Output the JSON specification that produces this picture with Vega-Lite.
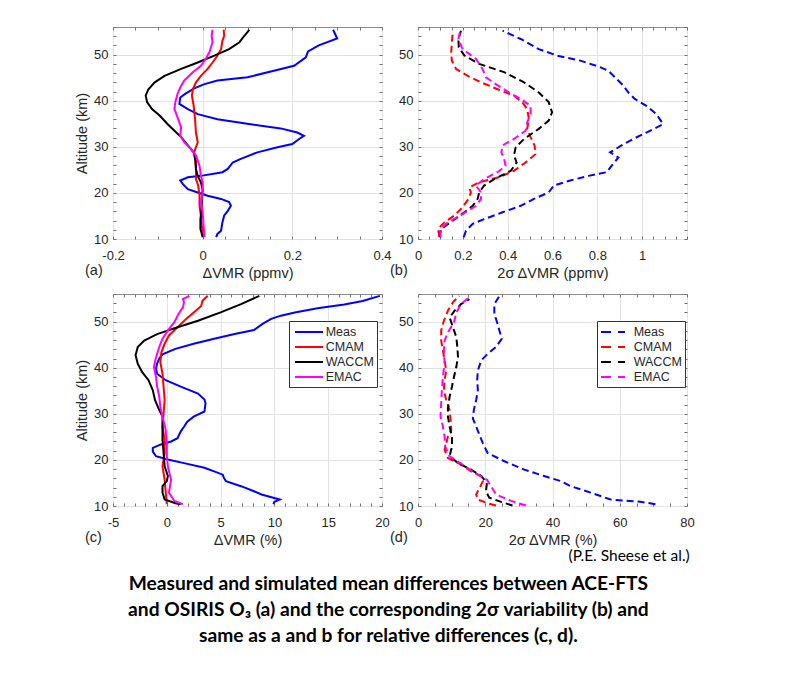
{
"$schema": "https://vega.github.io/schema/vega-lite/v6.json",
"background": "white",
"padding": {"left": 74, "top": 20, "right": 5, "bottom": 5},
"datasets": {
"a": [
{"s":"Meas","alt":55.4,"v":0.291},{"s":"Meas","alt":53.5,"v":0.300},{"s":"Meas","alt":52.0,"v":0.259},{"s":"Meas","alt":50.7,"v":0.235},{"s":"Meas","alt":49.4,"v":0.230},{"s":"Meas","alt":47.6,"v":0.204},{"s":"Meas","alt":46.5,"v":0.159},{"s":"Meas","alt":45.1,"v":0.100},{"s":"Meas","alt":44.4,"v":0.033},{"s":"Meas","alt":43.6,"v":0.004},{"s":"Meas","alt":42.7,"v":-0.019},{"s":"Meas","alt":41.5,"v":-0.039},{"s":"Meas","alt":40.7,"v":-0.050},{"s":"Meas","alt":39.3,"v":-0.052},{"s":"Meas","alt":38.2,"v":-0.033},{"s":"Meas","alt":37.1,"v":-0.011},{"s":"Meas","alt":36.0,"v":0.033},{"s":"Meas","alt":34.9,"v":0.107},{"s":"Meas","alt":34.0,"v":0.174},{"s":"Meas","alt":33.1,"v":0.211},{"s":"Meas","alt":32.4,"v":0.226},{"s":"Meas","alt":31.7,"v":0.215},{"s":"Meas","alt":30.6,"v":0.200},{"s":"Meas","alt":29.9,"v":0.167},{"s":"Meas","alt":28.8,"v":0.122},{"s":"Meas","alt":27.4,"v":0.085},{"s":"Meas","alt":26.6,"v":0.067},{"s":"Meas","alt":25.2,"v":0.056},{"s":"Meas","alt":24.5,"v":0.044},{"s":"Meas","alt":23.7,"v":-0.004},{"s":"Meas","alt":23.4,"v":-0.033},{"s":"Meas","alt":22.7,"v":-0.050},{"s":"Meas","alt":21.9,"v":-0.044},{"s":"Meas","alt":20.8,"v":-0.033},{"s":"Meas","alt":20.1,"v":-0.011},{"s":"Meas","alt":19.4,"v":0.011},{"s":"Meas","alt":18.7,"v":0.041},{"s":"Meas","alt":18.0,"v":0.059},{"s":"Meas","alt":17.2,"v":0.063},{"s":"Meas","alt":16.1,"v":0.056},{"s":"Meas","alt":15.1,"v":0.048},{"s":"Meas","alt":13.6,"v":0.044},{"s":"Meas","alt":11.8,"v":0.041},{"s":"Meas","alt":11.1,"v":0.033},{"s":"Meas","alt":10.4,"v":0.030},
{"s":"CMAM","alt":55.4,"v":0.047},{"s":"CMAM","alt":54.1,"v":0.048},{"s":"CMAM","alt":53.0,"v":0.044},{"s":"CMAM","alt":51.2,"v":0.041},{"s":"CMAM","alt":49.8,"v":0.033},{"s":"CMAM","alt":48.3,"v":0.022},{"s":"CMAM","alt":46.9,"v":0.011},{"s":"CMAM","alt":45.4,"v":-0.004},{"s":"CMAM","alt":44.0,"v":-0.015},{"s":"CMAM","alt":42.5,"v":-0.022},{"s":"CMAM","alt":41.1,"v":-0.024},{"s":"CMAM","alt":38.9,"v":-0.020},{"s":"CMAM","alt":36.0,"v":-0.017},{"s":"CMAM","alt":33.1,"v":-0.015},{"s":"CMAM","alt":31.0,"v":-0.011},{"s":"CMAM","alt":28.8,"v":-0.019},{"s":"CMAM","alt":27.4,"v":-0.015},{"s":"CMAM","alt":25.2,"v":-0.015},{"s":"CMAM","alt":23.0,"v":-0.015},{"s":"CMAM","alt":21.6,"v":-0.010},{"s":"CMAM","alt":19.4,"v":-0.007},{"s":"CMAM","alt":17.2,"v":-0.007},{"s":"CMAM","alt":15.1,"v":-0.004},{"s":"CMAM","alt":12.9,"v":-0.002},{"s":"CMAM","alt":10.4,"v":0.002},
{"s":"WACCM","alt":55.4,"v":0.104},{"s":"WACCM","alt":54.1,"v":0.093},{"s":"WACCM","alt":52.7,"v":0.082},{"s":"WACCM","alt":51.2,"v":0.059},{"s":"WACCM","alt":49.8,"v":0.026},{"s":"WACCM","alt":48.3,"v":-0.011},{"s":"WACCM","alt":46.9,"v":-0.048},{"s":"WACCM","alt":45.4,"v":-0.085},{"s":"WACCM","alt":44.0,"v":-0.107},{"s":"WACCM","alt":42.5,"v":-0.121},{"s":"WACCM","alt":41.1,"v":-0.127},{"s":"WACCM","alt":39.7,"v":-0.124},{"s":"WACCM","alt":38.2,"v":-0.113},{"s":"WACCM","alt":36.8,"v":-0.096},{"s":"WACCM","alt":35.0,"v":-0.079},{"s":"WACCM","alt":33.5,"v":-0.063},{"s":"WACCM","alt":32.1,"v":-0.048},{"s":"WACCM","alt":30.3,"v":-0.033},{"s":"WACCM","alt":28.8,"v":-0.020},{"s":"WACCM","alt":27.4,"v":-0.017},{"s":"WACCM","alt":25.2,"v":-0.015},{"s":"WACCM","alt":23.7,"v":-0.011},{"s":"WACCM","alt":22.3,"v":-0.004},{"s":"WACCM","alt":20.8,"v":0.000},{"s":"WACCM","alt":18.7,"v":-0.002},{"s":"WACCM","alt":16.5,"v":-0.002},{"s":"WACCM","alt":14.3,"v":-0.005},{"s":"WACCM","alt":12.2,"v":-0.005},{"s":"WACCM","alt":10.4,"v":0.000},
{"s":"EMAC","alt":55.4,"v":0.022},{"s":"EMAC","alt":54.1,"v":0.020},{"s":"EMAC","alt":52.7,"v":0.022},{"s":"EMAC","alt":50.5,"v":0.015},{"s":"EMAC","alt":49.1,"v":0.007},{"s":"EMAC","alt":47.6,"v":-0.004},{"s":"EMAC","alt":46.2,"v":-0.022},{"s":"EMAC","alt":44.4,"v":-0.041},{"s":"EMAC","alt":42.9,"v":-0.050},{"s":"EMAC","alt":41.5,"v":-0.056},{"s":"EMAC","alt":39.7,"v":-0.061},{"s":"EMAC","alt":38.2,"v":-0.063},{"s":"EMAC","alt":36.4,"v":-0.056},{"s":"EMAC","alt":34.2,"v":-0.048},{"s":"EMAC","alt":32.4,"v":-0.050},{"s":"EMAC","alt":31.0,"v":-0.041},{"s":"EMAC","alt":29.5,"v":-0.026},{"s":"EMAC","alt":28.1,"v":-0.015},{"s":"EMAC","alt":25.9,"v":-0.007},{"s":"EMAC","alt":23.7,"v":-0.004},{"s":"EMAC","alt":22.3,"v":0.000},{"s":"EMAC","alt":20.1,"v":0.000},{"s":"EMAC","alt":18.0,"v":-0.004},{"s":"EMAC","alt":15.8,"v":0.000},{"s":"EMAC","alt":12.9,"v":0.002},{"s":"EMAC","alt":10.4,"v":0.004}
],
"b": [
{"s":"Meas","alt":55.2,"v":0.377},{"s":"Meas","alt":53.4,"v":0.458},{"s":"Meas","alt":51.2,"v":0.539},{"s":"Meas","alt":49.8,"v":0.620},{"s":"Meas","alt":48.7,"v":0.724},{"s":"Meas","alt":47.3,"v":0.812},{"s":"Meas","alt":46.5,"v":0.849},{"s":"Meas","alt":45.1,"v":0.878},{"s":"Meas","alt":43.3,"v":0.916},{"s":"Meas","alt":41.8,"v":0.938},{"s":"Meas","alt":40.4,"v":0.967},{"s":"Meas","alt":38.9,"v":1.019},{"s":"Meas","alt":37.1,"v":1.064},{"s":"Meas","alt":34.9,"v":1.093},{"s":"Meas","alt":33.1,"v":1.019},{"s":"Meas","alt":31.7,"v":0.960},{"s":"Meas","alt":30.3,"v":0.908},{"s":"Meas","alt":28.8,"v":0.857},{"s":"Meas","alt":27.7,"v":0.894},{"s":"Meas","alt":25.9,"v":0.864},{"s":"Meas","alt":24.5,"v":0.842},{"s":"Meas","alt":23.7,"v":0.761},{"s":"Meas","alt":22.7,"v":0.679},{"s":"Meas","alt":21.6,"v":0.606},{"s":"Meas","alt":20.1,"v":0.583},{"s":"Meas","alt":18.7,"v":0.517},{"s":"Meas","alt":17.2,"v":0.458},{"s":"Meas","alt":15.8,"v":0.377},{"s":"Meas","alt":14.3,"v":0.295},{"s":"Meas","alt":13.3,"v":0.244},{"s":"Meas","alt":11.8,"v":0.214},{"s":"Meas","alt":10.4,"v":0.204},
{"s":"CMAM","alt":54.8,"v":0.155},{"s":"CMAM","alt":52.7,"v":0.151},{"s":"CMAM","alt":50.5,"v":0.148},{"s":"CMAM","alt":48.7,"v":0.151},{"s":"CMAM","alt":46.9,"v":0.170},{"s":"CMAM","alt":45.4,"v":0.222},{"s":"CMAM","alt":44.0,"v":0.281},{"s":"CMAM","alt":42.5,"v":0.355},{"s":"CMAM","alt":41.1,"v":0.428},{"s":"CMAM","alt":39.7,"v":0.465},{"s":"CMAM","alt":38.2,"v":0.487},{"s":"CMAM","alt":36.0,"v":0.495},{"s":"CMAM","alt":33.9,"v":0.487},{"s":"CMAM","alt":32.1,"v":0.502},{"s":"CMAM","alt":30.3,"v":0.520},{"s":"CMAM","alt":28.4,"v":0.524},{"s":"CMAM","alt":26.6,"v":0.480},{"s":"CMAM","alt":24.8,"v":0.428},{"s":"CMAM","alt":23.4,"v":0.362},{"s":"CMAM","alt":22.3,"v":0.273},{"s":"CMAM","alt":21.2,"v":0.229},{"s":"CMAM","alt":20.1,"v":0.236},{"s":"CMAM","alt":18.7,"v":0.225},{"s":"CMAM","alt":16.9,"v":0.199},{"s":"CMAM","alt":15.1,"v":0.162},{"s":"CMAM","alt":13.6,"v":0.118},{"s":"CMAM","alt":12.2,"v":0.089},{"s":"CMAM","alt":10.4,"v":0.096},
{"s":"WACCM","alt":55.2,"v":0.192},{"s":"WACCM","alt":53.4,"v":0.180},{"s":"WACCM","alt":51.6,"v":0.182},{"s":"WACCM","alt":49.8,"v":0.207},{"s":"WACCM","alt":48.0,"v":0.273},{"s":"WACCM","alt":46.2,"v":0.384},{"s":"WACCM","alt":44.0,"v":0.473},{"s":"WACCM","alt":41.8,"v":0.539},{"s":"WACCM","alt":39.7,"v":0.583},{"s":"WACCM","alt":37.5,"v":0.598},{"s":"WACCM","alt":35.7,"v":0.583},{"s":"WACCM","alt":33.9,"v":0.539},{"s":"WACCM","alt":31.7,"v":0.473},{"s":"WACCM","alt":29.9,"v":0.436},{"s":"WACCM","alt":28.1,"v":0.428},{"s":"WACCM","alt":26.6,"v":0.440},{"s":"WACCM","alt":24.8,"v":0.414},{"s":"WACCM","alt":23.0,"v":0.340},{"s":"WACCM","alt":21.6,"v":0.295},{"s":"WACCM","alt":20.1,"v":0.273},{"s":"WACCM","alt":18.7,"v":0.266},{"s":"WACCM","alt":17.2,"v":0.244},{"s":"WACCM","alt":15.8,"v":0.207},{"s":"WACCM","alt":14.0,"v":0.155},{"s":"WACCM","alt":12.2,"v":0.103},{"s":"WACCM","alt":10.4,"v":0.096},
{"s":"EMAC","alt":55.2,"v":0.189},{"s":"EMAC","alt":53.4,"v":0.180},{"s":"EMAC","alt":51.2,"v":0.199},{"s":"EMAC","alt":49.1,"v":0.258},{"s":"EMAC","alt":46.9,"v":0.288},{"s":"EMAC","alt":45.1,"v":0.303},{"s":"EMAC","alt":43.6,"v":0.347},{"s":"EMAC","alt":41.8,"v":0.406},{"s":"EMAC","alt":40.4,"v":0.458},{"s":"EMAC","alt":38.9,"v":0.502},{"s":"EMAC","alt":37.1,"v":0.502},{"s":"EMAC","alt":35.3,"v":0.487},{"s":"EMAC","alt":33.5,"v":0.480},{"s":"EMAC","alt":31.7,"v":0.428},{"s":"EMAC","alt":30.3,"v":0.377},{"s":"EMAC","alt":28.8,"v":0.372},{"s":"EMAC","alt":27.4,"v":0.384},{"s":"EMAC","alt":25.9,"v":0.391},{"s":"EMAC","alt":24.5,"v":0.355},{"s":"EMAC","alt":23.0,"v":0.295},{"s":"EMAC","alt":21.6,"v":0.258},{"s":"EMAC","alt":20.1,"v":0.281},{"s":"EMAC","alt":18.7,"v":0.281},{"s":"EMAC","alt":17.2,"v":0.258},{"s":"EMAC","alt":15.4,"v":0.199},{"s":"EMAC","alt":13.6,"v":0.133},{"s":"EMAC","alt":12.2,"v":0.100},{"s":"EMAC","alt":10.4,"v":0.100}
],
"c": [
{"s":"Meas","alt":55.6,"v":19.8},{"s":"Meas","alt":54.5,"v":18.2},{"s":"Meas","alt":53.7,"v":16.5},{"s":"Meas","alt":52.9,"v":14.0},{"s":"Meas","alt":52.0,"v":11.9},{"s":"Meas","alt":51.3,"v":10.6},{"s":"Meas","alt":50.6,"v":9.7},{"s":"Meas","alt":49.5,"v":8.9},{"s":"Meas","alt":48.2,"v":8.1},{"s":"Meas","alt":47.3,"v":6.3},{"s":"Meas","alt":46.3,"v":4.4},{"s":"Meas","alt":45.2,"v":2.5},{"s":"Meas","alt":44.1,"v":0.8},{"s":"Meas","alt":42.9,"v":-0.4},{"s":"Meas","alt":42.0,"v":-0.7},{"s":"Meas","alt":40.9,"v":-0.9},{"s":"Meas","alt":39.8,"v":-1.0},{"s":"Meas","alt":38.7,"v":-0.9},{"s":"Meas","alt":37.3,"v":-0.1},{"s":"Meas","alt":35.9,"v":1.3},{"s":"Meas","alt":34.4,"v":2.9},{"s":"Meas","alt":33.1,"v":3.5},{"s":"Meas","alt":32.3,"v":3.6},{"s":"Meas","alt":30.5,"v":3.5},{"s":"Meas","alt":29.4,"v":2.5},{"s":"Meas","alt":28.3,"v":1.9},{"s":"Meas","alt":27.2,"v":1.6},{"s":"Meas","alt":26.2,"v":1.3},{"s":"Meas","alt":24.7,"v":1.0},{"s":"Meas","alt":24.0,"v":0.4},{"s":"Meas","alt":23.3,"v":-0.6},{"s":"Meas","alt":22.6,"v":-1.3},{"s":"Meas","alt":21.8,"v":-1.3},{"s":"Meas","alt":20.8,"v":-1.0},{"s":"Meas","alt":20.1,"v":0.1},{"s":"Meas","alt":19.3,"v":1.6},{"s":"Meas","alt":18.3,"v":3.5},{"s":"Meas","alt":17.5,"v":4.4},{"s":"Meas","alt":16.8,"v":5.2},{"s":"Meas","alt":16.1,"v":5.3},{"s":"Meas","alt":15.4,"v":5.5},{"s":"Meas","alt":14.3,"v":6.9},{"s":"Meas","alt":13.2,"v":8.1},{"s":"Meas","alt":12.5,"v":8.8},{"s":"Meas","alt":11.4,"v":10.5},{"s":"Meas","alt":10.9,"v":10.0},{"s":"Meas","alt":10.4,"v":9.9},
{"s":"CMAM","alt":55.6,"v":3.8},{"s":"CMAM","alt":54.5,"v":3.3},{"s":"CMAM","alt":53.4,"v":3.2},{"s":"CMAM","alt":52.0,"v":2.5},{"s":"CMAM","alt":50.6,"v":1.8},{"s":"CMAM","alt":48.8,"v":1.0},{"s":"CMAM","alt":47.0,"v":0.2},{"s":"CMAM","alt":45.2,"v":-0.2},{"s":"CMAM","alt":43.4,"v":-0.5},{"s":"CMAM","alt":41.2,"v":-0.6},{"s":"CMAM","alt":38.7,"v":-0.4},{"s":"CMAM","alt":35.9,"v":-0.3},{"s":"CMAM","alt":33.0,"v":-0.2},{"s":"CMAM","alt":30.1,"v":-0.3},{"s":"CMAM","alt":27.2,"v":-0.4},{"s":"CMAM","alt":24.4,"v":-0.2},{"s":"CMAM","alt":21.5,"v":-0.2},{"s":"CMAM","alt":18.6,"v":-0.4},{"s":"CMAM","alt":15.7,"v":-0.2},{"s":"CMAM","alt":12.9,"v":-0.1},{"s":"CMAM","alt":10.4,"v":0.0},
{"s":"WACCM","alt":55.6,"v":8.6},{"s":"WACCM","alt":53.8,"v":6.9},{"s":"WACCM","alt":52.0,"v":5.0},{"s":"WACCM","alt":50.2,"v":2.9},{"s":"WACCM","alt":48.8,"v":1.0},{"s":"WACCM","alt":47.3,"v":-0.9},{"s":"WACCM","alt":45.9,"v":-2.1},{"s":"WACCM","alt":44.5,"v":-2.7},{"s":"WACCM","alt":42.7,"v":-2.9},{"s":"WACCM","alt":40.9,"v":-2.7},{"s":"WACCM","alt":39.1,"v":-2.3},{"s":"WACCM","alt":37.3,"v":-1.7},{"s":"WACCM","alt":35.1,"v":-1.3},{"s":"WACCM","alt":33.0,"v":-1.1},{"s":"WACCM","alt":30.8,"v":-0.7},{"s":"WACCM","alt":29.4,"v":-0.4},{"s":"WACCM","alt":27.2,"v":-0.4},{"s":"WACCM","alt":24.4,"v":-0.4},{"s":"WACCM","alt":21.5,"v":-0.3},{"s":"WACCM","alt":18.6,"v":-0.2},{"s":"WACCM","alt":16.5,"v":0.1},{"s":"WACCM","alt":15.4,"v":0.0},{"s":"WACCM","alt":14.3,"v":-0.4},{"s":"WACCM","alt":12.9,"v":-0.4},{"s":"WACCM","alt":11.4,"v":-0.2},{"s":"WACCM","alt":10.6,"v":0.8},{"s":"WACCM","alt":10.4,"v":1.3},
{"s":"EMAC","alt":55.6,"v":2.1},{"s":"EMAC","alt":54.9,"v":1.5},{"s":"EMAC","alt":54.2,"v":1.6},{"s":"EMAC","alt":53.1,"v":1.5},{"s":"EMAC","alt":51.7,"v":1.1},{"s":"EMAC","alt":49.9,"v":0.7},{"s":"EMAC","alt":48.1,"v":0.1},{"s":"EMAC","alt":46.3,"v":-0.4},{"s":"EMAC","alt":44.5,"v":-0.7},{"s":"EMAC","alt":42.3,"v":-1.0},{"s":"EMAC","alt":40.2,"v":-1.2},{"s":"EMAC","alt":38.0,"v":-1.0},{"s":"EMAC","alt":35.9,"v":-0.9},{"s":"EMAC","alt":33.7,"v":-0.7},{"s":"EMAC","alt":31.5,"v":-0.6},{"s":"EMAC","alt":29.4,"v":-0.4},{"s":"EMAC","alt":26.5,"v":-0.1},{"s":"EMAC","alt":23.6,"v":0.0},{"s":"EMAC","alt":20.8,"v":0.0},{"s":"EMAC","alt":18.6,"v":0.1},{"s":"EMAC","alt":15.7,"v":0.4},{"s":"EMAC","alt":12.9,"v":0.2},{"s":"EMAC","alt":11.1,"v":0.7},{"s":"EMAC","alt":10.4,"v":1.5}
],
"d": [
{"s":"Meas","alt":55.6,"v":24.2},{"s":"Meas","alt":53.8,"v":22.7},{"s":"Meas","alt":51.7,"v":22.7},{"s":"Meas","alt":49.9,"v":23.5},{"s":"Meas","alt":48.1,"v":24.2},{"s":"Meas","alt":46.3,"v":24.9},{"s":"Meas","alt":44.5,"v":23.2},{"s":"Meas","alt":43.0,"v":20.7},{"s":"Meas","alt":41.6,"v":18.8},{"s":"Meas","alt":39.4,"v":17.8},{"s":"Meas","alt":37.3,"v":17.6},{"s":"Meas","alt":35.1,"v":17.8},{"s":"Meas","alt":33.0,"v":17.3},{"s":"Meas","alt":30.8,"v":16.6},{"s":"Meas","alt":29.0,"v":16.3},{"s":"Meas","alt":27.2,"v":17.3},{"s":"Meas","alt":25.4,"v":18.3},{"s":"Meas","alt":23.6,"v":19.3},{"s":"Meas","alt":21.5,"v":20.7},{"s":"Meas","alt":19.7,"v":25.7},{"s":"Meas","alt":17.9,"v":31.6},{"s":"Meas","alt":16.5,"v":37.5},{"s":"Meas","alt":15.4,"v":42.5},{"s":"Meas","alt":14.3,"v":45.4},{"s":"Meas","alt":12.9,"v":51.4},{"s":"Meas","alt":11.4,"v":57.3},{"s":"Meas","alt":10.9,"v":66.2},{"s":"Meas","alt":10.4,"v":70.6},
{"s":"CMAM","alt":55.6,"v":12.3},{"s":"CMAM","alt":54.2,"v":10.4},{"s":"CMAM","alt":52.4,"v":8.9},{"s":"CMAM","alt":50.2,"v":7.7},{"s":"CMAM","alt":48.1,"v":6.9},{"s":"CMAM","alt":45.9,"v":6.9},{"s":"CMAM","alt":43.8,"v":7.4},{"s":"CMAM","alt":41.6,"v":7.9},{"s":"CMAM","alt":39.4,"v":8.4},{"s":"CMAM","alt":37.3,"v":7.9},{"s":"CMAM","alt":35.1,"v":7.7},{"s":"CMAM","alt":33.0,"v":8.4},{"s":"CMAM","alt":30.8,"v":9.4},{"s":"CMAM","alt":28.7,"v":9.7},{"s":"CMAM","alt":26.5,"v":9.9},{"s":"CMAM","alt":25.1,"v":8.9},{"s":"CMAM","alt":23.6,"v":8.4},{"s":"CMAM","alt":22.2,"v":7.9},{"s":"CMAM","alt":20.4,"v":8.9},{"s":"CMAM","alt":19.0,"v":12.8},{"s":"CMAM","alt":17.5,"v":15.8},{"s":"CMAM","alt":16.5,"v":18.8},{"s":"CMAM","alt":15.4,"v":19.3},{"s":"CMAM","alt":13.9,"v":18.3},{"s":"CMAM","alt":12.5,"v":17.3},{"s":"CMAM","alt":11.4,"v":17.8},{"s":"CMAM","alt":10.6,"v":20.7},{"s":"CMAM","alt":10.1,"v":23.2},
{"s":"WACCM","alt":54.9,"v":15.3},{"s":"WACCM","alt":53.8,"v":12.8},{"s":"WACCM","alt":52.4,"v":10.9},{"s":"WACCM","alt":50.9,"v":9.4},{"s":"WACCM","alt":48.8,"v":10.4},{"s":"WACCM","alt":46.6,"v":11.4},{"s":"WACCM","alt":44.5,"v":11.7},{"s":"WACCM","alt":42.3,"v":11.9},{"s":"WACCM","alt":40.2,"v":11.4},{"s":"WACCM","alt":38.0,"v":10.7},{"s":"WACCM","alt":35.9,"v":10.1},{"s":"WACCM","alt":33.7,"v":9.4},{"s":"WACCM","alt":31.2,"v":8.9},{"s":"WACCM","alt":29.4,"v":8.9},{"s":"WACCM","alt":27.2,"v":9.4},{"s":"WACCM","alt":25.1,"v":10.1},{"s":"WACCM","alt":22.9,"v":10.1},{"s":"WACCM","alt":20.8,"v":9.4},{"s":"WACCM","alt":19.3,"v":11.9},{"s":"WACCM","alt":17.9,"v":15.8},{"s":"WACCM","alt":16.5,"v":18.8},{"s":"WACCM","alt":15.0,"v":20.5},{"s":"WACCM","alt":13.2,"v":20.2},{"s":"WACCM","alt":11.8,"v":21.2},{"s":"WACCM","alt":10.9,"v":24.7},{"s":"WACCM","alt":10.1,"v":28.1},
{"s":"EMAC","alt":55.2,"v":15.0},{"s":"EMAC","alt":53.8,"v":12.8},{"s":"EMAC","alt":52.0,"v":11.4},{"s":"EMAC","alt":49.9,"v":10.7},{"s":"EMAC","alt":47.7,"v":8.9},{"s":"EMAC","alt":45.9,"v":7.9},{"s":"EMAC","alt":43.8,"v":7.7},{"s":"EMAC","alt":40.9,"v":7.9},{"s":"EMAC","alt":38.0,"v":7.4},{"s":"EMAC","alt":35.1,"v":7.1},{"s":"EMAC","alt":32.3,"v":6.9},{"s":"EMAC","alt":29.4,"v":6.7},{"s":"EMAC","alt":27.2,"v":7.4},{"s":"EMAC","alt":25.1,"v":7.9},{"s":"EMAC","alt":22.9,"v":8.1},{"s":"EMAC","alt":20.8,"v":9.4},{"s":"EMAC","alt":19.0,"v":13.3},{"s":"EMAC","alt":17.2,"v":16.8},{"s":"EMAC","alt":15.7,"v":20.5},{"s":"EMAC","alt":14.3,"v":21.7},{"s":"EMAC","alt":12.5,"v":23.2},{"s":"EMAC","alt":11.1,"v":27.7},{"s":"EMAC","alt":10.1,"v":32.1}
]
},
"title": {"text": ["Measured and simulated mean differences between ACE-FTS", "and OSIRIS O₃ (a) and the corresponding 2σ variability (b) and", "same as a and b for relative differences (c, d)."], "orient": "bottom", "anchor": "middle", "frame": "bounds", "font": "Lato", "fontSize": 19.2, "fontWeight": "bold", "color": "#000000", "lineHeight": 26, "offset": 10, "dx": 4},
"spacing": 7,
"resolve": {"scale": {"color": "independent"}, "legend": {"color": "independent"}},
"vconcat": [
{
"hconcat": [
{
"width": 269, "height": 212,
"data": {"name": "a"},
"title": {"text": "(a)", "orient": "bottom", "anchor": "start", "frame": "group", "dx": -28, "offset": 0, "dy": -16, "font": "Liberation Sans", "fontSize": 14.5, "fontWeight": "normal", "color": "#262626"},
"layer": [
{"mark": {"type": "line", "strokeWidth": 2},
 "encoding": {
  "x": {"field": "v", "type": "quantitative", "scale": {"domain": [-0.2, 0.4], "nice": false, "zero": false}, "axis": {"title": "ΔVMR (ppmv)", "format": "~g", "values": [-0.2,-0.15,-0.1,-0.05,0,0.05,0.1,0.15,0.2,0.25,0.3,0.35,0.4], "labelExpr": "abs(datum.value*5-round(datum.value*5))<0.001 ? replace(datum.label,'−','-') : ''", "gridOpacity": {"condition": {"test": "abs(datum.value*5-round(datum.value*5))<0.001", "value": 1}, "value": 0}}},
  "y": {"field": "alt", "type": "quantitative", "scale": {"domain": [10, 56], "nice": false, "zero": false}, "axis": {"title": "Altitude (km)", "values": [10,12,14,16,18,20,22,24,26,28,30,32,34,36,38,40,42,44,46,48,50,52,54,56], "labelExpr": "datum.value % 10 == 0 ? datum.label : ''", "gridOpacity": {"condition": {"test": "datum.value % 10 == 0", "value": 1}, "value": 0}}},
  "color": {"field": "s", "type": "nominal", "scale": {"domain": ["Meas","CMAM","WACCM","EMAC"], "range": ["#0000ff","#ff0000","#000000","#ff00ff"]}, "legend": null},
  "order": {"field": "alt", "type": "quantitative"}
 }},
{"mark": {"type": "line", "opacity": 0},
 "encoding": {
  "x": {"field": "v", "type": "quantitative", "scale": {"domain": [-0.2, 0.4], "nice": false, "zero": false}, "axis": {"orient": "top", "title": null, "labels": false, "grid": false, "values": [-0.2,-0.15,-0.1,-0.05,0,0.05,0.1,0.15,0.2,0.25,0.3,0.35,0.4]}},
  "y": {"field": "alt", "type": "quantitative", "scale": {"domain": [10, 56], "nice": false, "zero": false}, "axis": {"orient": "right", "title": null, "labels": false, "grid": false, "values": [10,12,14,16,18,20,22,24,26,28,30,32,34,36,38,40,42,44,46,48,50,52,54,56]}}
 }}
],
"resolve": {"axis": {"x": "independent", "y": "independent"}}
},
{
"width": 269, "height": 212,
"data": {"name": "b"},
"title": {"text": "(b)", "orient": "bottom", "anchor": "start", "frame": "group", "dx": -28, "offset": 0, "dy": -16, "font": "Liberation Sans", "fontSize": 14.5, "fontWeight": "normal", "color": "#262626"},
"layer": [
{"mark": {"type": "line", "strokeWidth": 2, "strokeDash": [7, 4]},
 "encoding": {
  "x": {"field": "v", "type": "quantitative", "scale": {"domain": [0, 1.2], "nice": false, "zero": false}, "axis": {"title": "2σ ΔVMR (ppmv)", "format": "~g", "values": [0,0.05,0.1,0.15,0.2,0.25,0.3,0.35,0.4,0.45,0.5,0.55,0.6,0.65,0.7,0.75,0.8,0.85,0.9,0.95,1,1.05,1.1,1.15,1.2], "labelExpr": "abs(datum.value*5-round(datum.value*5))<0.001 && datum.value < 1.1 ? datum.label : ''", "gridOpacity": {"condition": {"test": "abs(datum.value*5-round(datum.value*5))<0.001", "value": 1}, "value": 0}}},
  "y": {"field": "alt", "type": "quantitative", "scale": {"domain": [10, 56], "nice": false, "zero": false}, "axis": {"title": null, "values": [10,12,14,16,18,20,22,24,26,28,30,32,34,36,38,40,42,44,46,48,50,52,54,56], "labelExpr": "datum.value % 10 == 0 ? datum.label : ''", "gridOpacity": {"condition": {"test": "datum.value % 10 == 0", "value": 1}, "value": 0}}},
  "color": {"field": "s", "type": "nominal", "scale": {"domain": ["Meas","CMAM","WACCM","EMAC"], "range": ["#0000ff","#ff0000","#000000","#ff00ff"]}, "legend": null},
  "order": {"field": "alt", "type": "quantitative"}
 }},
{"mark": {"type": "line", "opacity": 0},
 "encoding": {
  "x": {"field": "v", "type": "quantitative", "scale": {"domain": [0, 1.2], "nice": false, "zero": false}, "axis": {"orient": "top", "title": null, "labels": false, "grid": false, "values": [0,0.05,0.1,0.15,0.2,0.25,0.3,0.35,0.4,0.45,0.5,0.55,0.6,0.65,0.7,0.75,0.8,0.85,0.9,0.95,1,1.05,1.1,1.15,1.2]}},
  "y": {"field": "alt", "type": "quantitative", "scale": {"domain": [10, 56], "nice": false, "zero": false}, "axis": {"orient": "right", "title": null, "labels": false, "grid": false, "values": [10,12,14,16,18,20,22,24,26,28,30,32,34,36,38,40,42,44,46,48,50,52,54,56]}}
 }}
],
"resolve": {"axis": {"x": "independent", "y": "independent"}}
}
],
"spacing": 36,
"bounds": "flush",
"resolve": {"scale": {"color": "independent"}, "legend": {"color": "independent"}}
},
{
"title": {"text": "(P.E. Sheese et al.)", "orient": "bottom", "anchor": "end", "frame": "bounds", "offset": 2, "dx": -5, "font": "Lato", "fontSize": 15.5, "fontWeight": "normal", "color": "#000000"},
"hconcat": [
{
"width": 269, "height": 212,
"data": {"name": "c"},
"title": {"text": "(c)", "orient": "bottom", "anchor": "start", "frame": "group", "dx": -28, "offset": 0, "dy": -16, "font": "Liberation Sans", "fontSize": 14.5, "fontWeight": "normal", "color": "#262626"},
"layer": [
{"mark": {"type": "line", "strokeWidth": 2},
 "encoding": {
  "x": {"field": "v", "type": "quantitative", "scale": {"domain": [-5, 20], "nice": false, "zero": false}, "axis": {"title": "ΔVMR (%)", "values": [-5,-4,-3,-2,-1,0,1,2,3,4,5,6,7,8,9,10,11,12,13,14,15,16,17,18,19,20], "labelExpr": "datum.value % 5 == 0 ? replace(datum.label,'−','-') : ''", "gridOpacity": {"condition": {"test": "datum.value % 5 == 0", "value": 1}, "value": 0}}},
  "y": {"field": "alt", "type": "quantitative", "scale": {"domain": [10, 56], "nice": false, "zero": false}, "axis": {"title": "Altitude (km)", "values": [10,12,14,16,18,20,22,24,26,28,30,32,34,36,38,40,42,44,46,48,50,52,54,56], "labelExpr": "datum.value % 10 == 0 ? datum.label : ''", "gridOpacity": {"condition": {"test": "datum.value % 10 == 0", "value": 1}, "value": 0}}},
  "color": {"field": "s", "type": "nominal", "scale": {"domain": ["Meas","CMAM","WACCM","EMAC"], "range": ["#0000ff","#ff0000","#000000","#ff00ff"]}, "legend": {"title": null, "orient": "none", "legendX": 176, "legendY": 27, "symbolType": "M-0.714,0H3.286", "symbolSize": 196, "symbolStrokeWidth": 2, "labelOffset": 17.7, "rowPadding": 0, "padding": 3, "strokeColor": "#333333", "fillColor": "#ffffff"}},
  "order": {"field": "alt", "type": "quantitative"}
 }},
{"mark": {"type": "line", "opacity": 0},
 "encoding": {
  "x": {"field": "v", "type": "quantitative", "scale": {"domain": [-5, 20], "nice": false, "zero": false}, "axis": {"orient": "top", "title": null, "labels": false, "grid": false, "values": [-5,-4,-3,-2,-1,0,1,2,3,4,5,6,7,8,9,10,11,12,13,14,15,16,17,18,19,20]}},
  "y": {"field": "alt", "type": "quantitative", "scale": {"domain": [10, 56], "nice": false, "zero": false}, "axis": {"orient": "right", "title": null, "labels": false, "grid": false, "values": [10,12,14,16,18,20,22,24,26,28,30,32,34,36,38,40,42,44,46,48,50,52,54,56]}}
 }}
],
"resolve": {"axis": {"x": "independent", "y": "independent"}}
},
{
"width": 269, "height": 212,
"data": {"name": "d"},
"title": {"text": "(d)", "orient": "bottom", "anchor": "start", "frame": "group", "dx": -28, "offset": 0, "dy": -16, "font": "Liberation Sans", "fontSize": 14.5, "fontWeight": "normal", "color": "#262626"},
"layer": [
{"mark": {"type": "line", "strokeWidth": 2, "strokeDash": [7, 4]},
 "encoding": {
  "x": {"field": "v", "type": "quantitative", "scale": {"domain": [0, 80], "nice": false, "zero": false}, "axis": {"title": "2σ ΔVMR (%)", "values": [0,5,10,15,20,25,30,35,40,45,50,55,60,65,70,75,80], "labelExpr": "datum.value % 20 == 0 ? datum.label : ''", "gridOpacity": {"condition": {"test": "datum.value % 20 == 0", "value": 1}, "value": 0}}},
  "y": {"field": "alt", "type": "quantitative", "scale": {"domain": [10, 56], "nice": false, "zero": false}, "axis": {"title": null, "values": [10,12,14,16,18,20,22,24,26,28,30,32,34,36,38,40,42,44,46,48,50,52,54,56], "labelExpr": "datum.value % 10 == 0 ? datum.label : ''", "gridOpacity": {"condition": {"test": "datum.value % 10 == 0", "value": 1}, "value": 0}}},
  "color": {"field": "s", "type": "nominal", "scale": {"domain": ["Meas","CMAM","WACCM","EMAC"], "range": ["#0000ff","#ff0000","#000000","#ff00ff"]}, "legend": {"title": null, "orient": "none", "legendX": 179, "legendY": 27, "symbolType": "M-1,0H2.43", "symbolSize": 196, "symbolStrokeWidth": 2, "symbolDash": [10, 7], "labelOffset": 17.7, "rowPadding": 0, "padding": 3, "strokeColor": "#333333", "fillColor": "#ffffff"}},
  "order": {"field": "alt", "type": "quantitative"}
 }},
{"mark": {"type": "line", "opacity": 0},
 "encoding": {
  "x": {"field": "v", "type": "quantitative", "scale": {"domain": [0, 80], "nice": false, "zero": false}, "axis": {"orient": "top", "title": null, "labels": false, "grid": false, "values": [0,5,10,15,20,25,30,35,40,45,50,55,60,65,70,75,80]}},
  "y": {"field": "alt", "type": "quantitative", "scale": {"domain": [10, 56], "nice": false, "zero": false}, "axis": {"orient": "right", "title": null, "labels": false, "grid": false, "values": [10,12,14,16,18,20,22,24,26,28,30,32,34,36,38,40,42,44,46,48,50,52,54,56]}}
 }}
],
"resolve": {"axis": {"x": "independent", "y": "independent"}}
}
],
"spacing": 36,
"bounds": "flush",
"resolve": {"scale": {"color": "independent"}, "legend": {"color": "independent"}}
}
],
"config": {
 "view": {"stroke": "#8c8c8c", "strokeWidth": 1},
 "axis": {"labelFont": "Liberation Sans", "labelFontSize": 13, "labelColor": "#262626", "titleFont": "Liberation Sans", "titleFontSize": 14.5, "titleFontWeight": "normal", "titleColor": "#262626", "tickColor": "#707070", "tickSize": -3, "tickWidth": 1, "domain": false, "gridColor": "#e2e2e2", "gridWidth": 1, "labelFlush": false, "labelOverlap": false, "labelPadding": 8, "titlePadding": 4},
 "axisX": {"labelPadding": 13},
 "legend": {"labelFont": "Liberation Sans", "labelFontSize": 12.5, "labelColor": "#262626"}
}
}
